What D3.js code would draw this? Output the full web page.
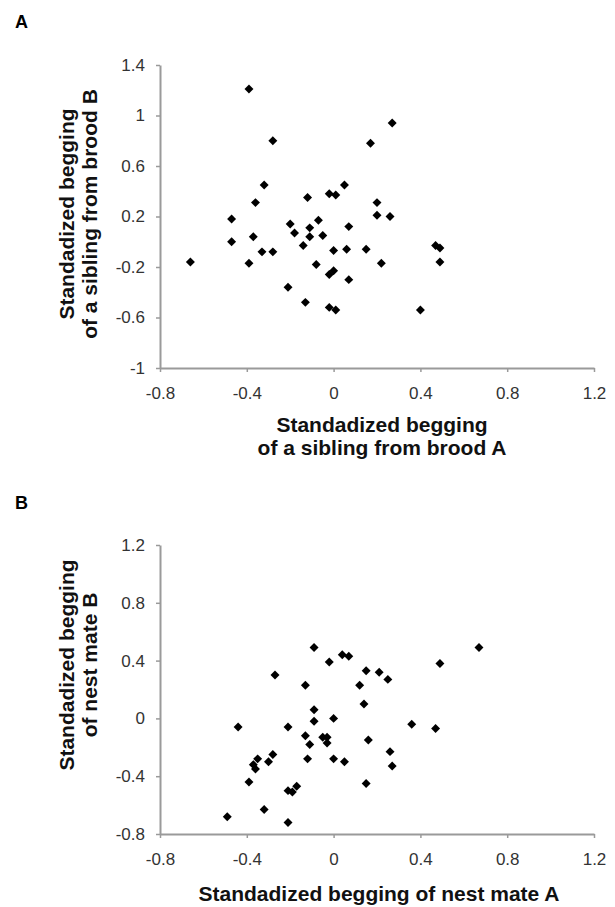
<!DOCTYPE html>
<html>
<head>
<meta charset="utf-8">
<script src="https://cdn.jsdelivr.net/npm/d3@7"></script>
<style>
  body { margin: 0; background: #fff; }
  svg { display: block; font-family: "Liberation Sans", Arial, sans-serif; }
</style>
</head>
<body>
<div id="chart"></div>
<script>
// Panel A: sibling from brood A (x) vs sibling from brood B (y)
const broodA = [-0.39, -0.28, -0.32, -0.36, -0.12, -0.02, 0.01, 0.05, -0.47, 0.27, 0.17,
  0.20, 0.20, 0.26, 0.07, -0.20, -0.11, -0.07, -0.18, -0.11, -0.05, -0.37, -0.47, -0.14,
  -0.33, -0.28, 0.00, 0.06, -0.66, -0.39, -0.08, -0.02, 0.00, 0.07, -0.21, -0.13, -0.02,
  0.01, 0.15, 0.22, 0.47, 0.49, 0.49, 0.40];
const broodB = [1.21, 0.80, 0.45, 0.31, 0.35, 0.38, 0.37, 0.45, 0.18, 0.94, 0.78,
  0.31, 0.21, 0.20, 0.12, 0.14, 0.11, 0.17, 0.07, 0.04, 0.05, 0.04, 0.00, -0.03,
  -0.08, -0.08, -0.07, -0.06, -0.16, -0.17, -0.18, -0.26, -0.23, -0.30, -0.36, -0.48, -0.52,
  -0.54, -0.06, -0.17, -0.03, -0.05, -0.16, -0.54];

// Panel B: nest mate A (x) vs nest mate B (y)
const mateA = [-0.09, -0.02, 0.04, 0.07, -0.27, 0.67, 0.49, 0.15, 0.21, 0.25, 0.12,
  0.14, 0.00, 0.36, 0.47, 0.16, 0.26, 0.00, 0.05, 0.27, 0.15, -0.13, -0.09, -0.09,
  -0.44, -0.21, -0.13, -0.11, -0.05, -0.03, -0.03, -0.12, -0.28, -0.35, -0.30, -0.37,
  -0.36, -0.39, -0.21, -0.19, -0.17, -0.32, -0.49, -0.21];
const mateB = [0.49, 0.39, 0.44, 0.43, 0.30, 0.49, 0.38, 0.33, 0.32, 0.27, 0.23,
  0.10, 0.00, -0.04, -0.07, -0.15, -0.23, -0.28, -0.30, -0.33, -0.45, 0.23, 0.06, -0.02,
  -0.06, -0.06, -0.12, -0.18, -0.13, -0.13, -0.17, -0.28, -0.25, -0.28, -0.30, -0.32,
  -0.35, -0.44, -0.50, -0.51, -0.47, -0.63, -0.68, -0.72];

const xTicks = [-0.8, -0.4, 0, 0.4, 0.8, 1.2];
const yTicksA = [-1, -0.6, -0.2, 0.2, 0.6, 1, 1.4];
const yTicksB = [-0.8, -0.4, 0, 0.4, 0.8, 1.2];

const WIDTH = 615, HEIGHT = 907;
const AXIS_COLOR = "#9a9a9a";
const fmt = d => String(+d.toFixed(1));

const svg = d3.select("#chart").append("svg")
  .attr("width", WIDTH)
  .attr("height", HEIGHT);

const diamond = d3.symbol().type(d3.symbolSquare).size(40)();

function drawPanel(opts) {
  const x = d3.scaleLinear().domain([-0.8, 1.2]).range([160, 594]);
  const y = d3.scaleLinear().domain(opts.yDomain).range([opts.bottom, opts.top]);

  // panel letter
  svg.append("text")
    .attr("x", 15).attr("y", opts.letterY)
    .attr("font-size", 18).attr("font-weight", "bold")
    .text(opts.letter);

  const gx = svg.append("g")
    .attr("transform", `translate(0,${opts.bottom})`)
    .call(d3.axisBottom(x).tickValues(xTicks).tickFormat(fmt)
      .tickSizeInner(4).tickSizeOuter(0).tickPadding(15));

  const gy = svg.append("g")
    .attr("transform", "translate(160,0)")
    .call(d3.axisLeft(y).tickValues(opts.yTicks).tickFormat(fmt)
      .tickSizeInner(4).tickSizeOuter(0).tickPadding(11));

  [gx, gy].forEach(g => {
    g.select(".domain").attr("stroke", AXIS_COLOR).attr("stroke-width", 2);
    g.selectAll(".tick line").attr("stroke", AXIS_COLOR).attr("stroke-width", 1.5);
    g.selectAll(".tick text")
      .attr("fill", "#333")
      .attr("font-size", 17)
      .attr("font-family", "'Liberation Sans', Arial, sans-serif");
  });

  // points
  svg.append("g")
    .selectAll("path")
    .data(opts.xs.map((v, i) => [v, opts.ys[i]]))
    .join("path")
    .attr("d", diamond)
    .attr("fill", "#000")
    .attr("transform", d => `translate(${x(d[0])},${y(d[1])}) rotate(45)`);

  // x title
  const xt = svg.append("text")
    .attr("text-anchor", "middle")
    .attr("font-size", 21).attr("font-weight", "bold")
    .attr("fill", "#111");
  opts.xTitle.forEach((line, i) => {
    xt.append("tspan")
      .attr("x", opts.xTitleX)
      .attr("y", opts.xTitleY + i * 23)
      .text(line);
  });

  // y title (rotated)
  const yt = svg.append("text")
    .attr("text-anchor", "middle")
    .attr("font-size", 21).attr("font-weight", "bold")
    .attr("fill", "#111")
    .attr("transform", `translate(0,${opts.yTitleY}) rotate(-90)`);
  opts.yTitle.forEach((line, i) => {
    yt.append("tspan")
      .attr("x", 0)
      .attr("y", 74 + i * 23)
      .text(line);
  });
}

drawPanel({
  letter: "A", letterY: 28,
  top: 65, bottom: 368,
  yDomain: [-1, 1.4], yTicks: yTicksA,
  xs: broodA, ys: broodB,
  xTitle: ["Standadized begging", "of a sibling from brood A"],
  xTitleX: 382, xTitleY: 432,
  yTitle: ["Standadized begging", "of a sibling from brood B"],
  yTitleY: 214
});

drawPanel({
  letter: "B", letterY: 509,
  top: 545, bottom: 834,
  yDomain: [-0.8, 1.2], yTicks: yTicksB,
  xs: mateA, ys: mateB,
  xTitle: ["Standadized begging of nest mate A"],
  xTitleX: 379, xTitleY: 901,
  yTitle: ["Standadized begging", "of nest mate B"],
  yTitleY: 665
});
</script>
</body>
</html>
